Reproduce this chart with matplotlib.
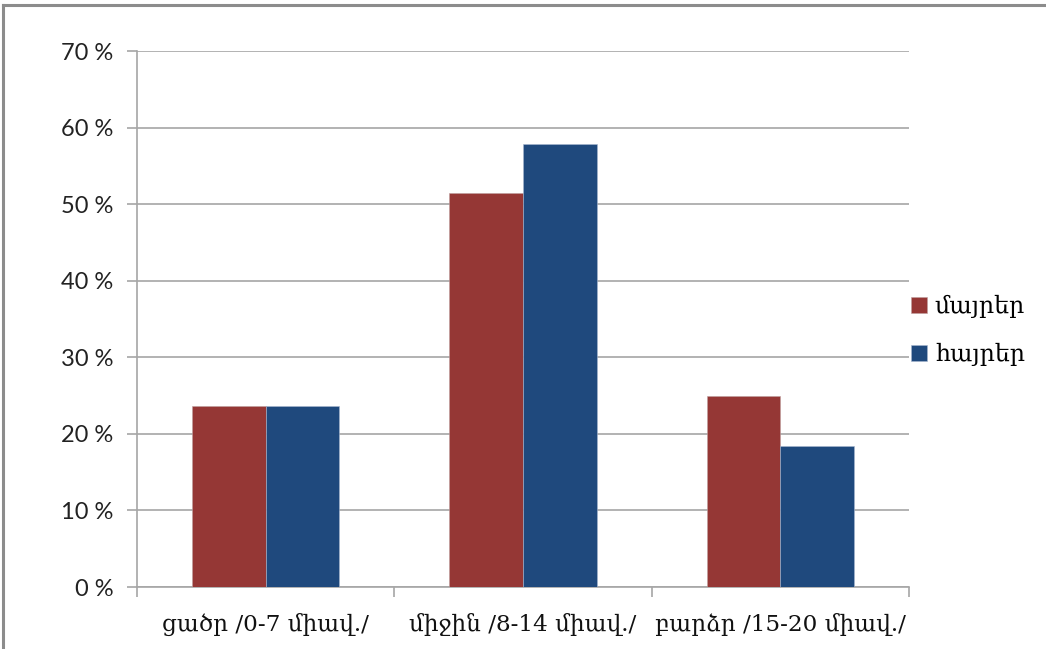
import numpy as np
import matplotlib
matplotlib.use("Agg")
import matplotlib.pyplot as plt
from matplotlib.lines import Line2D

# --- data ---
categories = ["ցածր /0-7 միավ./", "միջին /8-14 միավ./", "բարձր /15-20 միավ./"]
mothers = [23.6, 51.4, 24.9]   # մայրեր
fathers = [23.6, 57.9, 18.4]   # հայրեր
series_names = ["մայրեր", "հայրեր"]
y_ticks = [0, 10, 20, 30, 40, 50, 60, 70]
y_tick_labels = [f"{v} %" for v in y_ticks]

RED = "#953735"
BLUE = "#1f497d"
GRID = "#a6a6a6"
ARM_FONT = ["DejaVu Serif", "DejaVu Sans"]

fig = plt.figure(figsize=(10.46, 6.49), dpi=100)
ax = fig.add_axes([137 / 1046, 1 - 587 / 649, (909 - 137) / 1046, (587 - 51) / 649])

x = np.arange(len(categories))
w = 0.286
ax.bar(x - w / 2, mothers, w, color=RED, edgecolor="#c0a0a0", linewidth=0.4,
       label=series_names[0], zorder=3)
ax.bar(x + w / 2, fathers, w, color=BLUE, edgecolor="#a8b8d0", linewidth=0.4,
       label=series_names[1], zorder=3)

ax.set_xlim(-0.5, len(categories) - 0.5)
ax.set_ylim(0, 70)
ax.set_yticks(y_ticks)
ax.set_yticklabels(y_tick_labels, fontsize=17, family=["Lato", "DejaVu Sans"], color="#222222")
ax.yaxis.grid(True, color=GRID, linewidth=1.2, zorder=0)
ax.set_axisbelow(True)

# category labels centred, tick marks on the boundaries
ax.set_xticks(x)
ax.set_xticklabels(categories, fontsize=16.7, family=ARM_FONT, color="#111111")
ax.tick_params(axis="x", length=0, pad=19)
ax.set_xticks(np.arange(-0.5, len(categories)), minor=True)
ax.tick_params(axis="x", which="minor", length=7, width=1.2, color=GRID, direction="out")
ax.tick_params(axis="y", length=7, width=1.2, color=GRID, direction="out", pad=10)

for side in ["top", "right"]:
    ax.spines[side].set_visible(False)
for side in ["left", "bottom"]:
    ax.spines[side].set_color(GRID)
    ax.spines[side].set_linewidth(1.2)

leg = fig.legend(loc="upper left", bbox_to_anchor=(890 / 1046, 1 - 274 / 649),
                 frameon=False, prop={"family": ARM_FONT, "size": 17},
                 handlelength=0.65, handleheight=0.65, handletextpad=0.35,
                 labelspacing=1.05)

# outer chart frame (top and left edges visible)
frame_col = "#8c8c8c"
fig.add_artist(Line2D([3 / 1046, 1], [1 - 5 / 649, 1 - 5 / 649], color=frame_col,
                      linewidth=2.2, transform=fig.transFigure))
fig.add_artist(Line2D([3 / 1046, 3 / 1046], [0, 1 - 5 / 649], color=frame_col,
                      linewidth=2.2, transform=fig.transFigure))

fig.savefig("out.png", dpi=100)
